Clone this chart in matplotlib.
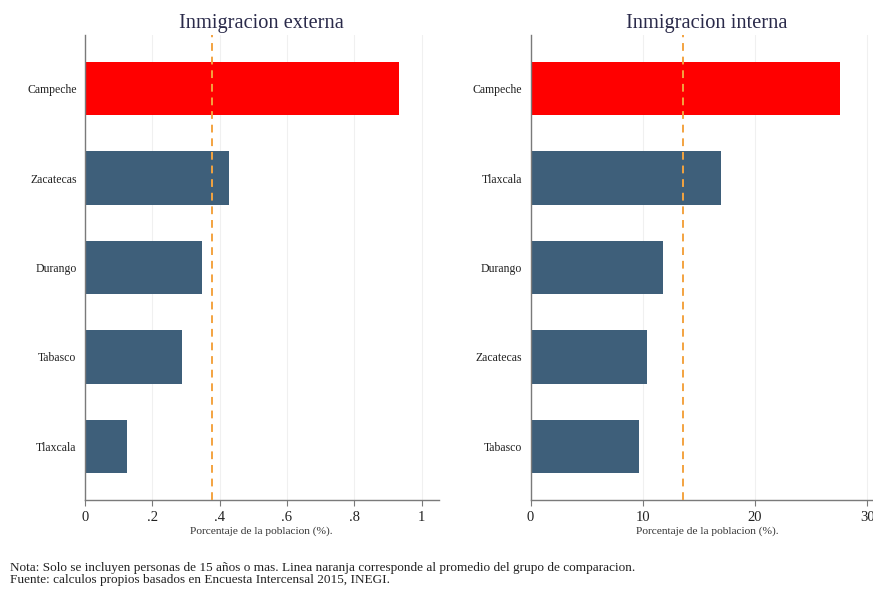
import matplotlib
matplotlib.use("Agg")
import matplotlib.pyplot as plt

plt.rcParams['font.family'] = ['Liberation Serif', 'DejaVu Serif']

ext_states = ["Campeche", "Zacatecas", "Durango", "Tabasco", "Tlaxcala"]
ext_values = [0.932, 0.427, 0.349, 0.288, 0.124]
ext_mean = 0.378
ext_ticks = [0, 0.2, 0.4, 0.6, 0.8, 1.0]
ext_ticklabels = ["0", ".2", ".4", ".6", ".8", "1"]

int_states = ["Campeche", "Tlaxcala", "Durango", "Zacatecas", "Tabasco"]
int_values = [27.6, 17.0, 11.8, 10.35, 9.7]
int_mean = 13.6
int_ticks = [0, 10, 20, 30]
int_ticklabels = ["0", "10", "20", "30"]

titles = ["Inmigracion externa", "Inmigracion interna"]
xlabel = "Porcentaje de la poblacion (%)."
note = ("Nota: Solo se incluyen personas de 15 años o mas. Linea naranja corresponde al promedio del grupo de comparacion.\n"
        "Fuente: calculos propios basados en Encuesta Intercensal 2015, INEGI.")

RED = "#ff0000"
BLUE = "#3e5f7a"
ORANGE = "#f3a340"
GRID = "#f0f0f0"
SPINE = "#7a7a7a"

W, H = 873, 590
fig = plt.figure(figsize=(W / 100, H / 100), dpi=100)

def make_ax(x0, x1, y_top, y_bot):
    return fig.add_axes([x0 / W, 1 - y_bot / H, (x1 - x0) / W, (y_bot - y_top) / H])

ax1 = make_ax(85, 438.5, 35, 500)
ax2 = make_ax(530.5, 884, 35, 500)

panels = [
    (ax1, ext_states, ext_values, ext_mean, ext_ticks, ext_ticklabels, 1.05, titles[0]),
    (ax2, int_states, int_values, int_mean, int_ticks, int_ticklabels, 31.5, titles[1]),
]

for ax, states, vals, mean, ticks, tlabels, xmax, title in panels:
    ypos = list(range(len(states)))
    colors = [RED] + [BLUE] * (len(states) - 1)
    ax.barh(ypos, vals, height=0.6, color=colors, zorder=2)
    ax.axvline(mean, color=ORANGE, linestyle=(0, (4, 3)), linewidth=1.4, zorder=3)
    ax.set_ylim(len(states) - 0.4, -0.6)
    ax.set_xlim(0, xmax)
    ax.set_yticks(ypos)
    ax.set_yticklabels(states, fontsize=8.5, color="#222222")
    ax.set_xticks(ticks)
    ax.set_xticklabels(tlabels, fontsize=10.5, color="#222222")
    ax.tick_params(axis="y", length=0, pad=6)
    ax.tick_params(axis="x", length=4, width=0.8, color=SPINE, pad=4)
    ax.grid(axis="x", color=GRID, linewidth=0.8, zorder=0)
    ax.set_axisbelow(True)
    for s in ["top", "right"]:
        ax.spines[s].set_visible(False)
    for s in ["left", "bottom"]:
        ax.spines[s].set_color(SPINE)
        ax.spines[s].set_linewidth(1.0)
    ax.set_xlabel(xlabel, fontsize=8.2, color="#333333", labelpad=2)
    ax.set_title(title, fontsize=14.7, color="#2a2a4a", pad=5)

fig.text(10 / W, 1 - 562 / H, note, fontsize=9.5, color="#222222",
         va="top", ha="left", linespacing=1.0)

fig.savefig("out.png", dpi=100)
